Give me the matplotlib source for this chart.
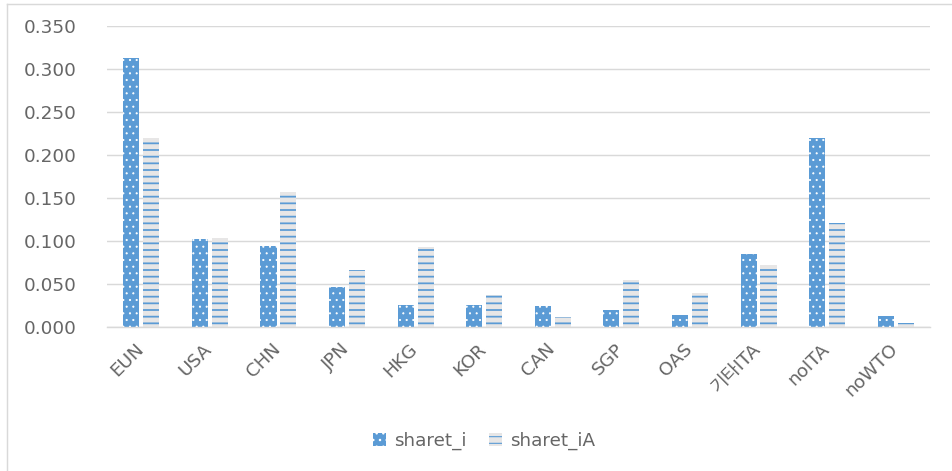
import matplotlib.pyplot as plt
import matplotlib.transforms as mtransforms
import numpy as np
from matplotlib.patches import Patch
from matplotlib.lines import Line2D

# values
categories = ['EUN', 'USA', 'CHN', 'JPN', 'HKG', 'KOR', 'CAN', 'SGP', 'OAS', '기타ITA', 'noITA', 'noWTO']
sharet_i = [0.313, 0.102, 0.094, 0.047, 0.026, 0.026, 0.024, 0.020, 0.014, 0.085, 0.220, 0.013]
sharet_iA = [0.220, 0.104, 0.157, 0.066, 0.093, 0.037, 0.012, 0.055, 0.040, 0.072, 0.121, 0.005]
yticks = [0.0, 0.05, 0.10, 0.15, 0.20, 0.25, 0.30, 0.35]

blue = '#5B9BD5'
light = '#E7E6E6'
grid = '#D9D9D9'
txt = '#666666'
fonts = ['DejaVu Sans', 'Noto Sans CJK KR']

plt.rcParams['font.family'] = fonts

dpi = 80
fig = plt.figure(figsize=(952 / dpi, 471 / dpi), dpi=dpi)
ax = fig.add_axes([107 / 952, 1 - 327 / 471, (930 - 107) / 952, (327 - 26) / 471])

x = np.arange(len(categories))
w = 0.235
off = 0.145

# sharet_i: solid blue with small white dots
ax.bar(x - off, sharet_i, w, color=blue, linewidth=0, zorder=2)
with plt.rc_context({'hatch.linewidth': 0.7}):
    ax.bar(x - off, sharet_i, w, facecolor='none', edgecolor='white', hatch='..', linewidth=0, zorder=3)
# sharet_iA: light gray with blue horizontal lines
ax.bar(x + off, sharet_iA, w, color=light, linewidth=0, zorder=2)
with plt.rc_context({'hatch.linewidth': 1.6}):
    ax.bar(x + off, sharet_iA, w, facecolor='none', edgecolor=blue, hatch='--', linewidth=0, zorder=3)

ax.set_xlim(-0.5, len(categories) - 0.5)
ax.set_ylim(0, 0.35)
ax.set_yticks(yticks)
ax.set_yticklabels([f'{v:.3f}' for v in yticks])
ax.yaxis.grid(True, color=grid, linewidth=1.3, zorder=0)
ax.set_axisbelow(True)
for s in ['top', 'right', 'left']:
    ax.spines[s].set_visible(False)
ax.spines['bottom'].set_color(grid)
ax.spines['bottom'].set_linewidth(1.3)
ax.tick_params(axis='y', length=0, pad=27, labelsize=16.5, labelcolor=txt)
ax.tick_params(axis='x', length=0, pad=8, labelsize=16.5, labelcolor=txt)
ax.set_xticks(x)
ax.set_xticklabels(categories, rotation=45, ha='right', rotation_mode='anchor')
shift = mtransforms.ScaledTranslation(-7 / dpi, -4 / dpi, fig.dpi_scale_trans)
for lbl in ax.get_xticklabels():
    lbl.set_transform(lbl.get_transform() + shift)

with plt.rc_context({'hatch.linewidth': 0.7}):
    h1 = Patch(facecolor=blue, edgecolor='white', hatch='..', linewidth=0)
with plt.rc_context({'hatch.linewidth': 1.6}):
    h2 = Patch(facecolor=light, edgecolor=blue, hatch='--', linewidth=0)
fig.legend([h1, h2], ['sharet_i', 'sharet_iA'], loc='center', bbox_to_anchor=(0.5 + 8 / 952, 1 - 441 / 471),
           ncol=2, frameon=False, fontsize=16.5, labelcolor=txt,
           handlelength=0.7, handleheight=0.7, handletextpad=0.45, columnspacing=1.2)

# chart frame (top and left edges visible)
fig.add_artist(Line2D([7 / 952, 1], [1 - 4 / 471, 1 - 4 / 471], color=grid, linewidth=1.3))
fig.add_artist(Line2D([7 / 952, 7 / 952], [0, 1 - 4 / 471], color=grid, linewidth=1.3))

fig.savefig('out.png', dpi=dpi)
